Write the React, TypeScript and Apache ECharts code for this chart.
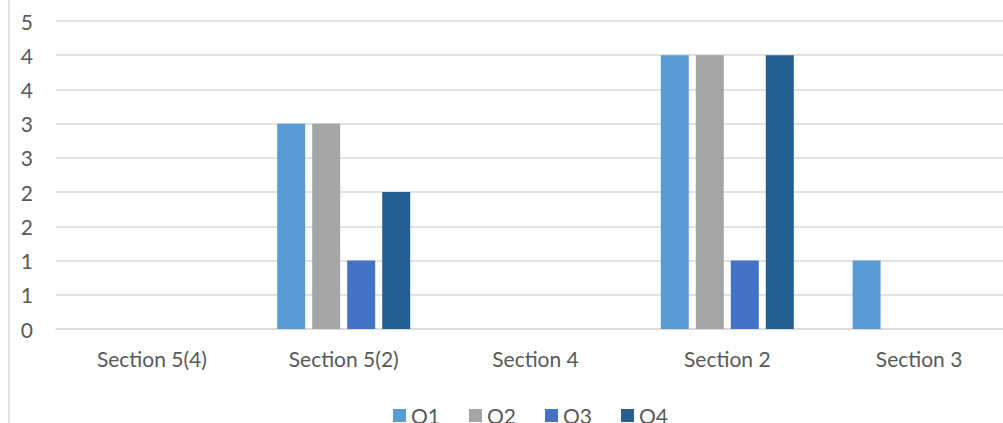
import React, { useEffect, useRef } from "react";
import * as echarts from "echarts";

const categories = ["Section 5(4)", "Section 5(2)", "Section 4", "Section 2", "Section 3"];
const seriesNames = ["Q1", "Q2", "Q3", "Q4"];
const q1 = [0, 3, 0, 4, 1];
const q2 = [0, 3, 0, 4, 0];
const q3 = [0, 1, 0, 1, 0];
const q4 = [0, 2, 0, 4, 0];
const colors = ["#5B9BD5", "#A5A5A5", "#4472C4", "#255E91"];

export default function App() {
  const ref = useRef<HTMLDivElement>(null);
  useEffect(() => {
    document.body.style.margin = "0";
    const chart = echarts.init(ref.current!, null, { renderer: "svg" });
    const font = "Lato, 'Open Sans', sans-serif";
    const data = [q1, q2, q3, q4];
    chart.setOption({
      animation: false,
      color: colors,
      textStyle: { fontFamily: font },
      grid: { left: 56, right: 0, top: 21, height: 308, containLabel: false, outerBoundsMode: "none" },
      legend: {
        data: seriesNames,
        top: 400,
        left: 388,
        itemWidth: 13,
        itemHeight: 13,
        itemGap: 29,
        icon: "rect",
        textStyle: { fontSize: 21, color: "#595959", fontFamily: font },
      },
      xAxis: {
        type: "category",
        data: categories,
        axisLine: { show: true, lineStyle: { color: "#d9d9d9", width: 1.5 } },
        axisTick: { show: false },
        axisLabel: { fontSize: 21, color: "#595959", margin: 19, fontFamily: font },
      },
      yAxis: {
        type: "value",
        min: 0,
        max: 4.5,
        interval: 0.5,
        axisLine: { show: false },
        axisTick: { show: false },
        splitLine: { lineStyle: { color: "#d9d9d9", width: 1.5 } },
        axisLabel: {
          fontSize: 21,
          color: "#595959",
          margin: 23,
          fontFamily: font,
          padding: [7, 0, 0, 0],
          formatter: (v: number) => String(Math.round(v)),
        },
      },
      series: data.map((d, i) => ({
        name: seriesNames[i],
        type: "bar",
        data: d,
        barWidth: 28,
        barGap: "25%",
      })),
      graphic: [
        {
          type: "line",
          shape: { x1: 9, y1: 0, x2: 9, y2: 423 },
          style: { stroke: "#d9d9d9", lineWidth: 1.5 },
        },
      ],
    });
    return () => chart.dispose();
  }, []);
  return (
    <div style={{ width: 1003, height: 423, overflow: "hidden", position: "relative" }}>
      <div ref={ref} style={{ width: 1015, height: 423 }} />
    </div>
  );
}
